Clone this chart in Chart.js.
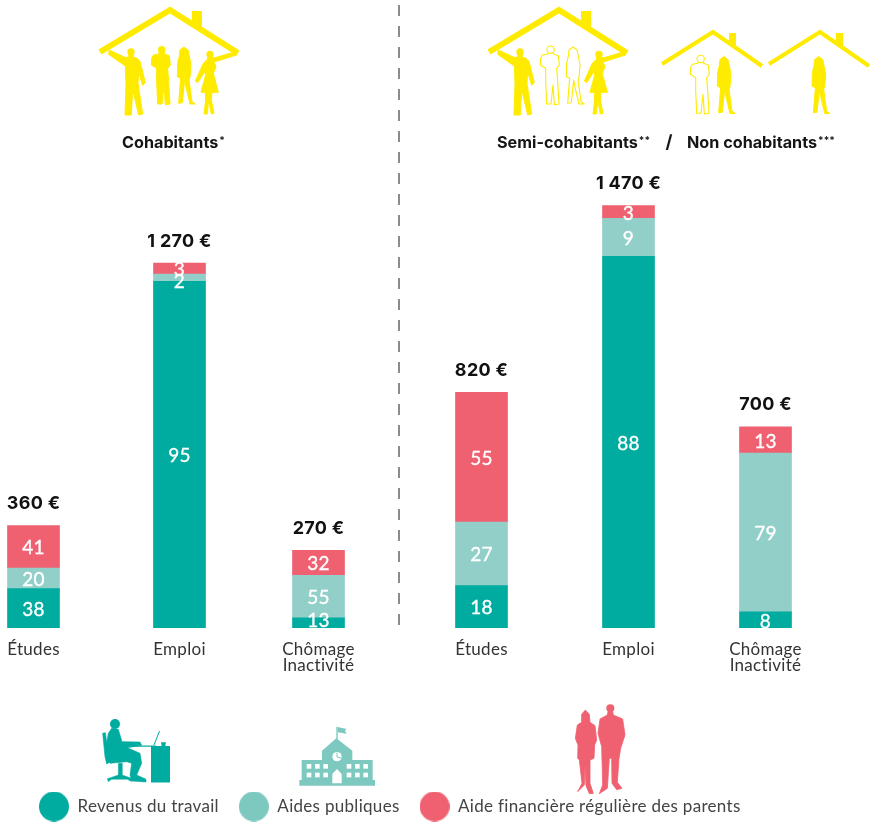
<!DOCTYPE html>
<html lang="fr">
<head>
<meta charset="utf-8">
<title>Revenus des jeunes</title>
<style>html,body{margin:0;padding:0;background:#fff}canvas{display:block}</style>
<script src="https://cdn.jsdelivr.net/npm/chart.js@4/dist/chart.umd.js"></script>
</head>
<body>
<canvas id="c" width="871" height="822"></canvas>
<script>
// ---------- data ----------
const categories = ['Études', 'Emploi', ['Chômage', 'Inactivité'], 'Études', 'Emploi', ['Chômage', 'Inactivité']];
const monthlyTotals = [360, 1270, 270, 820, 1470, 700];
const totalLabels = ['360 €', '1 270 €', '270 €', '820 €', '1 470 €', '700 €'];
const workShare = [38, 95, 13, 18, 88, 8];
const publicShare = [20, 2, 55, 27, 9, 79];
const parentShare = [41, 3, 32, 55, 3, 13];
const seriesNames = ['Revenus du travail', 'Aides publiques', 'Aide financière régulière des parents'];

// ---------- look ----------
const TEAL = '#00ab9f', AQUA = '#93cfc9', PINK = '#ef6170', AQUA_ICON = '#7dc8bf', YELLOW = '#ffeb00';
const BODY_FONT = 'Lato, sans-serif', HEAD_FONT = 'Inter, sans-serif';
const shares = [workShare, publicShare, parentShare];
const barColors = [TEAL, AQUA, PINK];
const legendColors = [TEAL, AQUA_ICON, PINK];
const firstBarOffset = 33.5, barGaps = [146, 139, 163, 147, 137];
const shiftByShare = {2: 3, 13: -4};

class SpacedCategoryScale extends Chart.CategoryScale {
  getPixelForValue(value) {
    const i = typeof value === 'number' ? value : this.parse(value);
    return firstBarOffset + barGaps.slice(0, i).reduce((a, b) => a + b, 0);
  }
}
SpacedCategoryScale.id = 'spacedCategory';
SpacedCategoryScale.defaults = Chart.CategoryScale.defaults;
Chart.register(SpacedCategoryScale);

function disc(color) {
  const c = document.createElement('canvas');
  c.width = c.height = 30;
  const x = c.getContext('2d');
  x.fillStyle = color;
  x.beginPath(); x.arc(15, 15, 15, 0, Math.PI * 2); x.fill();
  return c;
}

// ---------- silhouettes: outlines are in 1/3 pixel units ----------
const MAN_ARM = [[58,150],[105,172],[116,172],[117,160],[130,160],[130,172],[140,174],[150,184],[166,248],[158,256],[146,216],[144,250],[158,342],[146,345],[128,268],[124,345],[105,345],[108,250],[106,198],[56,163]];
const MAN_FRONT = [[190,165],[207,162],[208,152],[222,152],[223,162],[238,167],[241,195],[233,206],[236,245],[240,312],[226,314],[222,255],[216,312],[203,312],[200,245],[200,205],[184,195],[185,175]];
const WOMAN_HAIR = [[270,150],[282,141],[294,150],[298,168],[303,195],[300,232],[297,240],[306,305],[316,312],[300,312],[288,262],[284,240],[277,308],[266,310],[272,235],[262,230],[263,190],[268,168]];
const WOMAN_DRESS = [[440,165],[372,186],[378,200],[370,220],[385,277],[366,277],[364,300],[372,340],[364,342],[356,300],[352,342],[342,342],[347,300],[346,277],[333,277],[347,225],[345,215],[323,248],[316,243],[340,190],[352,178],[354,168],[366,168],[372,174],[436,155]];
const HEADS = {man: [123,156,11], front: [215,149,11], dress: [360,163,11]};

function shape(ctx, pts, ox, oy) {
  ctx.beginPath();
  pts.forEach(([x, y], i) => i ? ctx.lineTo(ox + x / 3, oy + y / 3) : ctx.moveTo(ox + x / 3, oy + y / 3));
  ctx.closePath();
}
function solid(ctx, pts, ox, oy, thicken = 0) {
  shape(ctx, pts, ox, oy); ctx.fill();
  if (thicken) { ctx.lineWidth = thicken; ctx.lineJoin = 'round'; ctx.stroke(); }
}
function round(ctx, x, y, r, ox, oy) { ctx.beginPath(); ctx.arc(ox + x / 3, oy + y / 3, r / 3, 0, Math.PI * 2); ctx.fill(); }
function hollow(ctx, pts, ox, oy) {
  ctx.lineWidth = 1.1; ctx.lineJoin = 'round';
  shape(ctx, pts, ox, oy); ctx.stroke();
}
function hollowHead(ctx, head, ox, oy) {
  ctx.lineWidth = 1.1;
  ctx.save(); ctx.fillStyle = '#fff';
  ctx.beginPath(); ctx.arc(ox + head[0] / 3, oy + head[1] / 3, head[2] / 3, 0, Math.PI * 2); ctx.fill(); ctx.stroke();
  ctx.restore();
}
function roof(ctx, a, apex, b, width) {
  ctx.lineWidth = width; ctx.lineJoin = 'miter'; ctx.lineCap = 'butt';
  ctx.beginPath(); ctx.moveTo(a[0], a[1]); ctx.lineTo(apex[0], apex[1]); ctx.lineTo(b[0], b[1]); ctx.stroke();
}
function bigHouse(ctx, ox, filledMiddle) {
  roof(ctx, [ox + 100, 52], [ox + 170, 10], [ox + 238, 53], 6);
  ctx.fillRect(ox + 192, 11, 10, 16);
  solid(ctx, MAN_ARM, ox + 90, 0, 1); round(ctx, ...HEADS.man, ox + 90, 0);
  solid(ctx, WOMAN_DRESS, ox + 90, 0, 1); round(ctx, ...HEADS.dress, ox + 90, 0);
  if (filledMiddle) {
    solid(ctx, MAN_FRONT, ox + 90, 0, 1); round(ctx, ...HEADS.front, ox + 90, 0);
    solid(ctx, WOMAN_HAIR, ox + 90, 0, 1);
  } else {
    hollow(ctx, MAN_FRONT, ox + 90, 0); hollowHead(ctx, HEADS.front, ox + 90, 0);
    hollow(ctx, WOMAN_HAIR, ox + 90, 0);
  }
}
function smallHouse(ctx, ox) {
  roof(ctx, [ox + 662, 64], [ox + 713, 32], [ox + 762, 66], 4);
  ctx.fillRect(ox + 729, 33, 7, 12);
}
function drawPeople(ctx) {
  ctx.save();
  ctx.fillStyle = YELLOW; ctx.strokeStyle = YELLOW;
  bigHouse(ctx, 0, true);
  bigHouse(ctx, 389, false);
  smallHouse(ctx, 0);
  smallHouse(ctx, 107);
  hollow(ctx, MAN_FRONT, 629, 9.3); hollowHead(ctx, HEADS.front, 629, 9.3);
  solid(ctx, WOMAN_HAIR, 630, 9.5, 1);
  solid(ctx, WOMAN_HAIR, 724.7, 9.5, 1);
  ctx.restore();
}
function drawWorker(ctx) {
  const ox = 90, oy = 700;
  ctx.save();
  ctx.fillStyle = TEAL; ctx.strokeStyle = TEAL;
  ctx.fillRect(ox + 61, oy + 46, 19, 36.5);
  ctx.fillRect(ox + 36, oy + 45.5, 30, 1.2);
  round(ctx, 75, 72, 15, ox, oy);
  solid(ctx, [[55,100],[65,85],[85,88],[96,125],[150,126],[155,136],[112,143],[150,160],[155,190],[140,225],[168,238],[168,246],[126,243],[120,225],[125,190],[110,185],[60,190],[48,140]], ox, oy, 0.6);
  solid(ctx, [[38,100],[46,98],[55,160],[62,185],[50,192],[45,170]], ox, oy, 0.6);
  solid(ctx, [[85,190],[97,190],[97,225],[125,235],[125,245],[112,238],[65,238],[55,245],[52,236],[85,225]], ox, oy, 0.4);
  solid(ctx, [[213,127],[228,127],[226,138],[215,138]], ox, oy);
  ctx.lineWidth = 1;
  ctx.beginPath(); ctx.moveTo(ox + 64, oy + 45); ctx.lineTo(ox + 69.5, oy + 31); ctx.stroke();
  ctx.restore();
}
function drawSchool(ctx) {
  const ox = 90, oy = 700;
  ctx.save();
  ctx.fillStyle = AQUA_ICON;
  solid(ctx, [[628,240],[855,240],[855,257],[628,257]], ox, oy);
  solid(ctx, [[635,180],[848,180],[848,242],[635,242]], ox, oy);
  solid(ctx, [[696,152],[739,115],[787,152],[787,242],[696,242]], ox, oy);
  solid(ctx, [[739,80],[743,80],[743,118],[739,118]], ox, oy);
  solid(ctx, [[743,81],[770,87],[765,92],[770,101],[743,97]], ox, oy);
  ctx.fillStyle = '#fff';
  [650, 675, 700, 770, 795, 820].forEach(x => [192, 218].forEach(y => solid(ctx, [[x,y],[x+14,y],[x+14,y+14],[x,y+14]], ox, oy)));
  round(ctx, 741, 170, 14, ox, oy);
  solid(ctx, [[727,222],[741,207],[755,222],[755,250],[727,250]], ox, oy);
  ctx.strokeStyle = AQUA_ICON; ctx.lineWidth = 1;
  ctx.beginPath(); ctx.moveTo(ox + 247, oy + 52.5); ctx.lineTo(ox + 247, oy + 57); ctx.lineTo(ox + 251, oy + 58); ctx.stroke();
  ctx.restore();
}
function drawCouple(ctx) {
  const ox = 400, oy = 695;
  ctx.save();
  ctx.fillStyle = PINK; ctx.strokeStyle = PINK;
  solid(ctx, [[545,58],[556,45],[568,58],[570,82],[585,92],[590,135],[584,150],[582,190],[570,195],[570,265],[580,295],[568,296],[558,272],[555,215],[553,270],[533,290],[546,265],[538,195],[533,190],[534,150],[526,130],[532,90],[545,82]], ox, oy, 0.8);
  round(ctx, 631, 40, 12, ox, oy);
  solid(ctx, [[624,50],[638,50],[640,60],[668,72],[675,120],[662,160],[657,190],[652,262],[666,280],[650,284],[636,265],[635,190],[628,190],[622,280],[598,296],[608,270],[605,155],[594,115],[600,72],[622,60]], ox, oy, 0.8);
  ctx.restore();
}

// ---------- decorations and value labels ----------
function supText(ctx, text, stars, x, y) {
  ctx.font = '700 16.2px ' + HEAD_FONT;
  ctx.textBaseline = 'middle'; ctx.textAlign = 'left';
  ctx.fillText(text, x, y);
  const w = ctx.measureText(text).width;
  ctx.font = '700 10px ' + HEAD_FONT;
  ctx.fillText(stars, x + w + 1, y - 2);
}
const decorations = {
  id: 'decorations',
  beforeLayout(chart) { chart.ctx.letterSpacing = '0.3px'; },
  afterLayout(chart) {
    chart.legend.left = 19;
    chart.legend.top = 822 - chart.legend.height + 3;
  },
  beforeDatasetsDraw(chart) {
    const ctx = chart.ctx;
    ctx.save();
    ctx.strokeStyle = '#666'; ctx.lineWidth = 1.5; ctx.setLineDash([11, 10]);
    ctx.beginPath(); ctx.moveTo(399, 5); ctx.lineTo(399, 631); ctx.stroke();
    ctx.restore();
    drawPeople(ctx); drawWorker(ctx); drawSchool(ctx); drawCouple(ctx);
    ctx.save();
    ctx.fillStyle = '#151515';
    ctx.letterSpacing = '0px';
    supText(ctx, 'Cohabitants', '*', 122, 143);
    supText(ctx, 'Semi-cohabitants', '**', 497, 143);
    supText(ctx, 'Non cohabitants', '***', 687, 143);
    ctx.font = '700 18px ' + HEAD_FONT;
    ctx.textAlign = 'center';
    ctx.fillText('/', 669, 143);
    ctx.restore();
  },
  afterDatasetsDraw(chart) {
    const ctx = chart.ctx;
    ctx.save();
    ctx.textAlign = 'center'; ctx.textBaseline = 'middle';
    ctx.letterSpacing = '0.3px';
    shares.forEach((share, d) => {
      chart.getDatasetMeta(d).data.forEach((bar, i) => {
        ctx.fillStyle = '#fff'; ctx.strokeStyle = '#fff'; ctx.lineWidth = 0.35;
        ctx.font = '400 19px ' + BODY_FONT;
        const mid = (bar.y + bar.base) / 2 + 1.5;
        const y = mid + (d < 2 && shiftByShare[share[i]] ? shiftByShare[share[i]] : 0);
        ctx.fillText(String(share[i]), bar.x, y);
        ctx.strokeText(String(share[i]), bar.x, y);
      });
    });
    chart.getDatasetMeta(2).data.forEach((bar, i) => {
      ctx.fillStyle = '#111';
      ctx.font = '700 18px ' + HEAD_FONT;
      ctx.letterSpacing = '0.3px';
      ctx.fillText(totalLabels[i], bar.x, bar.y - 22);
    });
    ctx.restore();
  }
};

new Chart(document.getElementById('c'), {
  type: 'bar',
  data: {
    labels: categories,
    datasets: shares.map((share, d) => ({
      label: seriesNames[d],
      data: share.map((p, i) => monthlyTotals[i] * p / 100),
      backgroundColor: barColors[d],
      borderWidth: 0,
      barThickness: 52,
      stack: 'income'
    }))
  },
  options: {
    responsive: false,
    animation: false,
    devicePixelRatio: 1,
    layout: {padding: 0},
    plugins: {
      tooltip: {enabled: false},
      legend: {
        position: 'bottom',
        align: 'start',
        labels: {
          color: '#444',
          font: {family: BODY_FONT, size: 17},
          padding: 20,
          usePointStyle: true,
          pointStyleWidth: 30,
          generateLabels: () => seriesNames.map((text, i) => ({
            text, pointStyle: disc(legendColors[i]), fontColor: '#444', datasetIndex: i, hidden: false, lineWidth: 0
          }))
        }
      }
    },
    scales: {
      x: {
        type: 'spacedCategory',
        stacked: true,
        grid: {display: false},
        border: {display: false},
        afterFit(scale) { scale.height = 822 - 628 - scale.chart.legend.height; },
        ticks: {
          autoSkip: false, maxRotation: 0, minRotation: 0, padding: 5,
          color: '#333', font: {family: BODY_FONT, size: 17, lineHeight: 0.95}
        }
      },
      y: {
        stacked: true,
        display: false,
        min: 0,
        max: 628 / 0.2873
      }
    }
  },
  plugins: [decorations]
});
</script>
</body>
</html>
